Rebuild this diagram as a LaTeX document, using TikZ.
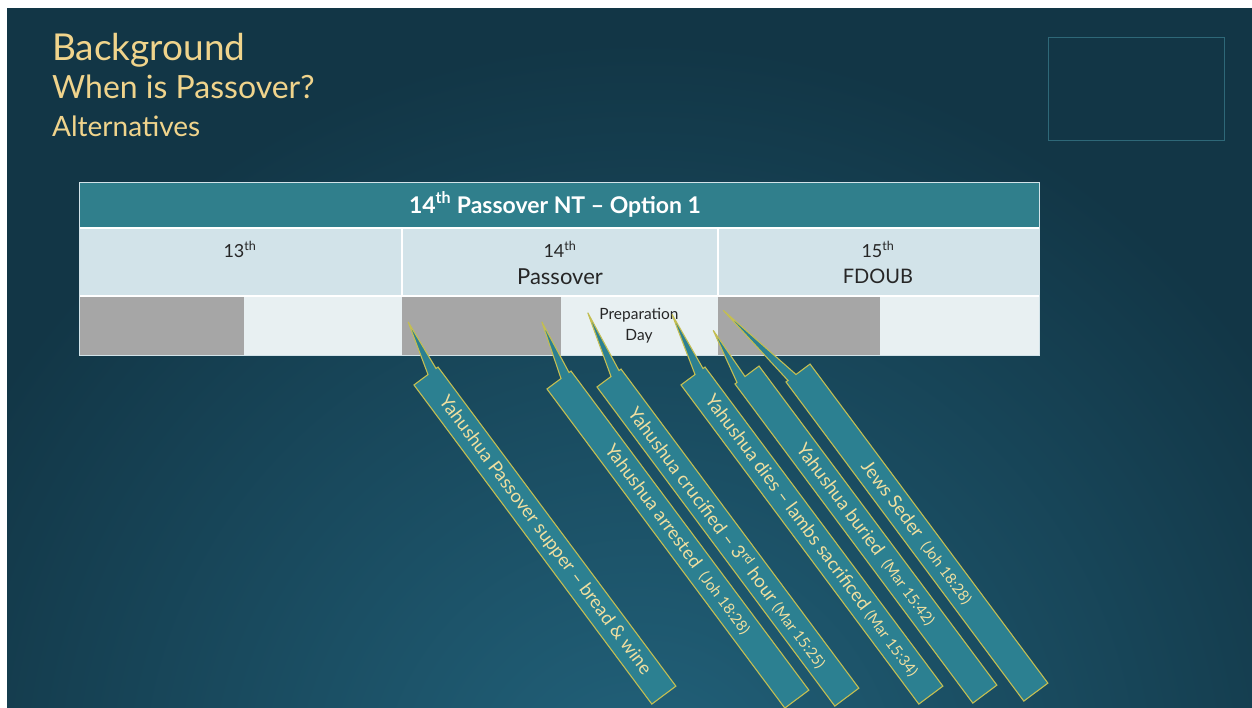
\documentclass[tikz,border=0pt]{standalone}
\usepackage{fontspec}
\setmainfont{Lato}
\definecolor{bgdark}{HTML}{123646}
\definecolor{bglight}{HTML}{22637C}
\definecolor{titlec}{HTML}{F0D48C}
\definecolor{hdrc}{HTML}{307F8C}
\definecolor{rowtwo}{HTML}{D2E3E9}
\definecolor{rowthree}{HTML}{E8F0F2}
\definecolor{greyc}{HTML}{A6A6A6}
\definecolor{calfill}{HTML}{2C8091}
\definecolor{calline}{HTML}{C4BE52}
\definecolor{caltext}{HTML}{F0DFA0}
\definecolor{framec}{HTML}{2E6878}
\definecolor{darktext}{HTML}{262626}
\tikzset{
  calshape/.style={fill=calfill, draw=calline, line width=1.1pt, line join=miter},
  caltxt/.style={text=caltext, font=\fontsize{18.5}{18.5}\selectfont, inner sep=0pt, anchor=center, transform shape},
  titletxt/.style={text=titlec, inner sep=0pt, anchor=base west},
  celltxt/.style={text=darktext, inner sep=0pt, anchor=base},
}
\newcommand{\refsz}{\fontsize{15}{15}\selectfont}
\begin{document}
\begin{tikzpicture}[x=1pt,y=-1pt]
\useasboundingbox (0,0) rectangle (1252,707);
\fill[white] (0,0) rectangle (1252,707);
\begin{scope}
  \clip (7,8) rectangle (1252,707);
  \fill[bgdark] (7,8) rectangle (1252,707);
  \shade[inner color=bglight, outer color=bgdark] (640,800) circle (760);
\end{scope}
% top-right frame
\draw[framec, line width=1pt] (1048,37) rectangle (1224,140);
% titles
\node[titletxt, font=\fontsize{37}{37}\selectfont] (t1) at (52,60) {Background};
\node[titletxt, font=\fontsize{32}{32}\selectfont] (t2) at (52,98) {When is Passover?};
\node[titletxt, font=\fontsize{28}{28}\selectfont] (t3) at (52,136) {Alternatives};
% table
\fill[hdrc] (79,182) rectangle (1039,228);
\fill[rowtwo] (79,228) rectangle (1039,296);
\fill[greyc] (79,296) rectangle (244,355);
\fill[rowthree] (244,296) rectangle (402,355);
\fill[greyc] (402,296) rectangle (561,355);
\fill[rowthree] (561,296) rectangle (718,355);
\fill[greyc] (718,296) rectangle (880,355);
\fill[rowthree] (880,296) rectangle (1039,355);
\draw[white, line width=2pt] (79,228) -- (1039,228);
\draw[white, line width=1.5pt] (79,296) -- (1039,296);
\draw[white, line width=1.5pt] (402,228) -- (402,296);
\draw[white, line width=1.5pt] (718,228) -- (718,296);
\draw[rowtwo, line width=1pt] (79,182) rectangle (1039,355);
\node[text=white, inner sep=0pt, anchor=base, font=\bfseries\fontsize{23}{23}\selectfont] (hdr) at (555,213) {14\textsuperscript{th} Passover NT – Option 1};
\node[celltxt, font=\fontsize{18}{18}\selectfont] (d13) at (240,257) {13\textsuperscript{th}};
\node[celltxt, font=\fontsize{18}{18}\selectfont] (d14) at (560,257) {14\textsuperscript{th}};
\node[celltxt, font=\fontsize{22}{22}\selectfont] (pass) at (560,284) {Passover};
\node[celltxt, font=\fontsize{18}{18}\selectfont] (d15) at (878,257) {15\textsuperscript{th}};
\node[celltxt, font=\fontsize{20}{20}\selectfont] (fdoub) at (878,283) {FDOUB};
\node[celltxt, font=\fontsize{15.5}{15.5}\selectfont] (prep) at (639,319) {Preparation};
\node[celltxt, font=\fontsize{15.5}{15.5}\selectfont] (day) at (639,340) {Day};
% callouts
\begin{scope}[shift={(426,376)}, rotate=-53.3]
  \path[calshape] (0,-15) -- (0,-12.5) -- (-54,-18) -- (0,-2.5) -- (0,15) -- (398,15) -- (398,-15) -- cycle;
  \node[caltxt] (c1) at (199,0) {Yahushua Passover supper – bread \& wine};
\end{scope}
\begin{scope}[shift={(559,380)}, rotate=-53.3]
  \path[calshape] (0,-15) -- (0,-12.5) -- (-57,-21) -- (0,-2.5) -- (0,15) -- (398,15) -- (398,-15) -- cycle;
  \node[caltxt] (c2) at (199,0) {Yahushua arrested \ {\refsz(Joh 18:28)}};
\end{scope}
\begin{scope}[shift={(609,378)}, rotate=-53.3]
  \path[calshape] (0,-15) -- (0,-12.5) -- (-65,-22) -- (0,-2.5) -- (0,15) -- (398,15) -- (398,-15) -- cycle;
  \node[caltxt] (c3) at (199,0) {Yahushua crucified – 3\textsuperscript{rd} hour {\refsz(Mar 15:25)}};
\end{scope}
\begin{scope}[shift={(693,376)}, rotate=-53.3]
  \path[calshape] (0,-15) -- (0,-12.5) -- (-62,-20) -- (0,-2.5) -- (0,15) -- (398,15) -- (398,-15) -- cycle;
  \node[caltxt] (c4) at (199,0) {Yahushua dies – lambs sacrificed {\refsz(Mar 15:34)}};
\end{scope}
\begin{scope}[shift={(747,375)}, rotate=-53.3]
  \path[calshape] (0,-15) -- (0,2.5) -- (-56,0.4) -- (0,12.5) -- (0,15) -- (398,15) -- (398,-15) -- cycle;
  \node[caltxt] (c5) at (199,0) {Yahushua buried \ {\refsz(Mar 15:42)}};
\end{scope}
\begin{scope}[shift={(798,373)}, rotate=-53.3]
  \path[calshape] (0,-15) -- (0,2.5) -- (-95,22.5) -- (0,12.5) -- (0,15) -- (398,15) -- (398,-15) -- cycle;
  \node[caltxt] (c6) at (199,0) {Jews Seder \ {\refsz(Joh 18:28)}};
\end{scope}
\end{tikzpicture}
\end{document}
